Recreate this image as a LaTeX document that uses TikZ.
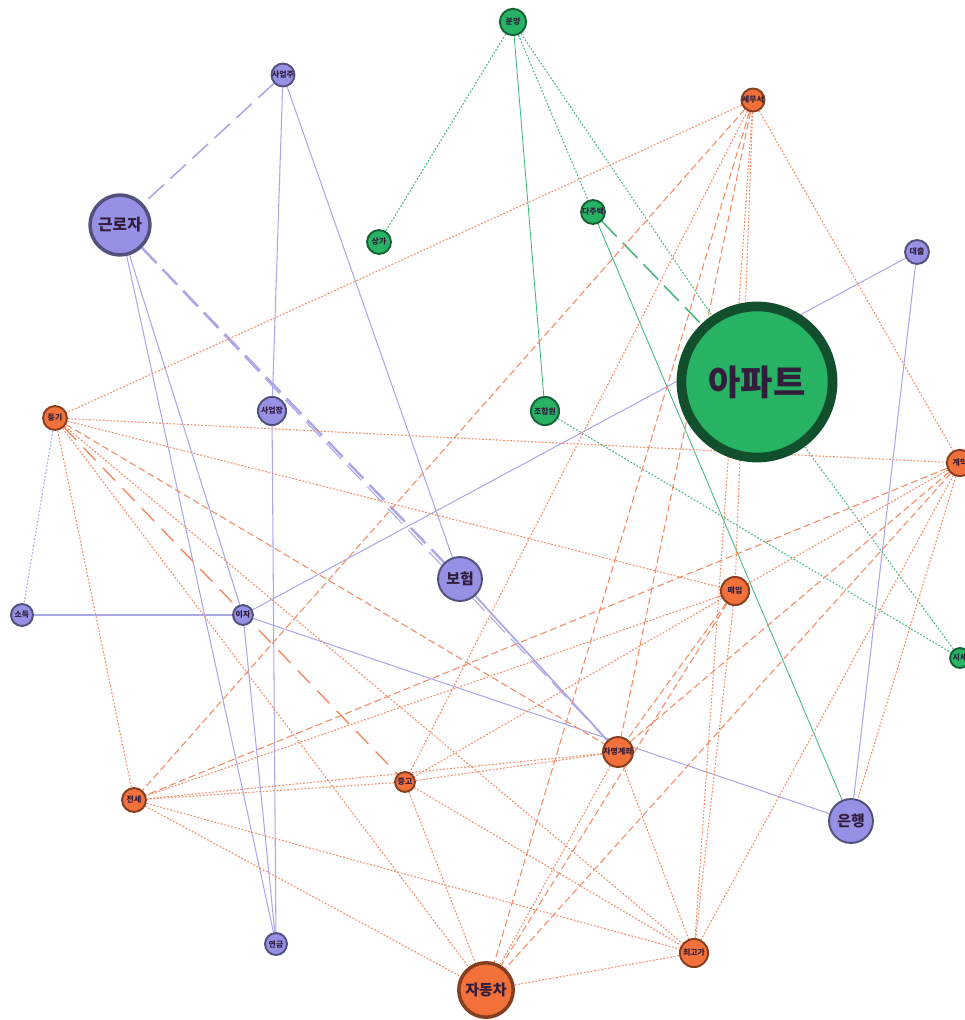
\documentclass[tikz,border=0pt]{standalone}
\usepackage{fontspec}
\setmainfont{Noto Sans CJK KR}
\definecolor{purp}{RGB}{150,145,228}
\definecolor{purpln}{RGB}{172,168,232}
\definecolor{grn}{RGB}{40,178,100}
\definecolor{grnln}{RGB}{70,185,130}
\definecolor{orng}{RGB}{242,112,58}
\definecolor{orngln}{RGB}{243,138,100}
\definecolor{ink}{RGB}{50,30,60}
\pgfdeclarelayer{bg}
\pgfsetlayers{bg,main}
\begin{document}
\begin{tikzpicture}[x=0.02cm,y=-0.02cm,
 kw/.style={circle,inner sep=0pt,line width=1.1pt,text=ink,font=\fontsize{4.5}{5}\selectfont\bfseries},
 pkw/.style={kw,fill=purp,draw=purp!55!black},
 gkw/.style={kw,fill=grn,draw=grn!55!black},
 okw/.style={kw,fill=orng,draw=orng!55!black},
 pline/.style={purpln,line width=0.6pt},
 plong/.style={purpln,line width=0.9pt,dash pattern=on 12pt off 5pt},
 pdot/.style={purpln,line width=0.6pt,dash pattern=on 1pt off 1pt},
 gline/.style={grnln,line width=0.5pt},
 gdot/.style={grnln,line width=0.6pt,dash pattern=on 1pt off 1pt},
 glong/.style={grnln,line width=0.9pt,dash pattern=on 12pt off 5pt},
 odot/.style={orngln,line width=0.6pt,dash pattern=on 1pt off 1pt},
 odash/.style={orngln,line width=0.6pt,dash pattern=on 4pt off 2pt},
 olong/.style={orngln,line width=0.8pt,dash pattern=on 10pt off 6pt}]
\useasboundingbox (0,0) rectangle (964,1020);
% keywords
\node[pkw,minimum size=9pt] (owner) at (283,75) {사업주};
\node[gkw,minimum size=15pt] (sale) at (513,22) {분양};
\node[okw,minimum size=9pt] (taxoff) at (753,100) {세무서};
\node[pkw,minimum size=34pt,line width=2pt,font=\fontsize{9}{10}\selectfont\bfseries] (worker) at (120,225) {근로자};
\node[gkw,minimum size=13.6pt] (shop) at (379,242) {상가};
\node[gkw,minimum size=13.6pt] (multi) at (593,212) {다주택};
\node[pkw,minimum size=13.6pt] (loan) at (917,252) {대출};
\node[gkw,minimum size=86pt,line width=5.5pt,draw=grn!45!black,font=\fontsize{20}{21}\selectfont\bfseries] (apt) at (757,382) {아파트};
\node[okw,minimum size=13.6pt] (regist) at (55,418) {등기};
\node[pkw,minimum size=16pt] (site) at (272,411) {사업장};
\node[gkw,minimum size=16pt] (union) at (545,411) {조합원};
\node[okw,minimum size=15pt] (contract) at (960,463) {계약};
\node[pkw,minimum size=25pt,font=\fontsize{8.5}{9}\selectfont\bfseries] (insure) at (460,579) {보험};
\node[okw,minimum size=16pt] (buy) at (735,591) {매입};
\node[pkw,minimum size=12.5pt] (income) at (22,615) {소득};
\node[pkw,minimum size=11.3pt] (interest) at (243,615) {이자};
\node[gkw,minimum size=11.3pt] (price) at (960,658) {시세};
\node[okw,minimum size=17pt] (borrowed) at (618,752) {차명계좌};
\node[okw,minimum size=11.3pt] (used) at (405,782) {중고};
\node[okw,minimum size=13.6pt] (jeonse) at (134,800) {전세};
\node[pkw,minimum size=25pt,font=\fontsize{8.5}{9}\selectfont\bfseries] (bank) at (851,821) {은행};
\node[pkw,minimum size=12.5pt] (pension) at (276,944) {연금};
\node[okw,minimum size=16pt] (topbid) at (694,953) {최고가};
\node[okw,minimum size=31pt,line width=2pt,font=\fontsize{8.5}{9}\selectfont\bfseries] (car) at (486,990) {자동차};
% links
\begin{pgfonlayer}{bg}
\foreach \a/\b in {owner/site,site/pension,owner/insure,worker/interest,worker/pension,
  income/interest,interest/loan,interest/bank,interest/pension,loan/bank}
  \draw[pline] (\a) -- (\b);
\draw[plong] (owner) -- (worker);
\draw[plong,line width=1.4pt] (worker) -- (insure);
\draw[plong,line width=0.6pt] (worker) -- (borrowed);
\draw[pline,line width=1pt] (insure) -- (borrowed);
\draw[pdot] (regist) -- (income);
\foreach \a/\b in {sale/shop,sale/multi,sale/apt,union/price,apt/price}
  \draw[gdot] (\a) -- (\b);
\foreach \a/\b in {sale/union,multi/bank}
  \draw[gline] (\a) -- (\b);
\draw[glong] (multi) -- (apt);
\foreach \a/\b in {taxoff/regist,taxoff/used,taxoff/topbid,taxoff/contract,taxoff/buy,
  regist/contract,regist/buy,regist/topbid,regist/car,regist/jeonse,
  contract/topbid,contract/buy,contract/bank,buy/jeonse,buy/used,buy/topbid,
  borrowed/used,borrowed/jeonse,borrowed/car,borrowed/topbid,
  jeonse/used,jeonse/car,jeonse/topbid,used/car,used/topbid,car/topbid}
  \draw[odot] (\a) -- (\b);
\foreach \a/\b in {taxoff/jeonse,taxoff/borrowed,taxoff/car,regist/borrowed,
  contract/jeonse,contract/borrowed,contract/car,buy/borrowed,buy/car}
  \draw[odash] (\a) -- (\b);
\draw[olong] (regist) -- (used);
\end{pgfonlayer}
\end{tikzpicture}
\end{document}
